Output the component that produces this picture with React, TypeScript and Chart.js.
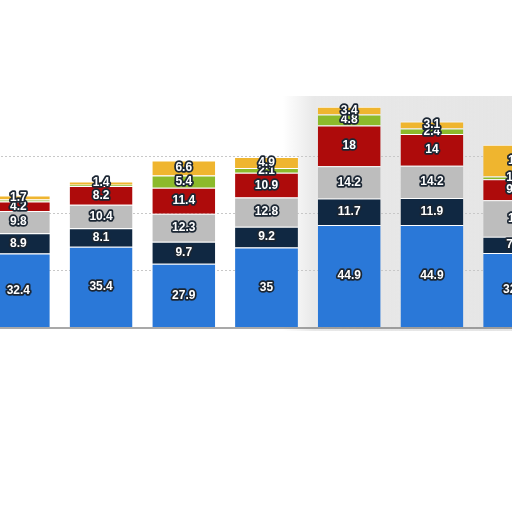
import React, { useEffect, useRef } from 'react';
import { Chart, ChartConfiguration, Plugin, registerables } from 'chart.js';

Chart.register(...registerables);

const categories = ['1', '2', '3', '4', '5', '6', '7'];
const blueValues = [32.4, 35.4, 27.9, 35, 44.9, 44.9, 32.6];
const navyValues = [8.9, 8.1, 9.7, 9.2, 11.7, 11.9, 7.2];
const grayValues = [9.8, 10.4, 12.3, 12.8, 14.2, 14.2, 16.0];
const redValues = [4.2, 8.2, 11.4, 10.9, 18, 14, 9.3];
const greenValues = [0.9, 0.6, 5.4, 2.1, 4.8, 2.4, 1.2];
const yellowValues = [1.7, 1.4, 6.6, 4.9, 3.4, 3.1, 14];
const gridValues = [25, 50, 75];

// soft grey shading behind the right part, like the source capture
const backdrop: Plugin<'bar'> = {
  id: 'backdrop',
  beforeDraw(chart) {
    const { ctx, chartArea } = chart;
    ctx.save();
    const g = ctx.createLinearGradient(305, 0, 560, 0);
    g.addColorStop(0, 'rgba(220,220,220,0)');
    g.addColorStop(0.12, 'rgba(218,218,218,0.6)');
    g.addColorStop(1, 'rgba(225,225,225,0.85)');
    ctx.fillStyle = g;
    ctx.fillRect(305, chartArea.top - 4, 300, chartArea.bottom - chartArea.top + 8);
    ctx.restore();
  }
};

// value labels in each segment + the base line
const segmentLabels: Plugin<'bar'> = {
  id: 'segmentLabels',
  afterDatasetsDraw(chart) {
    const { ctx, chartArea } = chart;
    const y0 = chart.scales.y.getPixelForValue(0);
    ctx.save();
    ctx.strokeStyle = '#555';
    ctx.lineWidth = 1.2;
    ctx.beginPath();
    ctx.moveTo(chartArea.left, y0 + 1);
    ctx.lineTo(chartArea.right, y0 + 1);
    ctx.stroke();

    ctx.font = 'bold 12px "Liberation Sans", Arial, sans-serif';
    ctx.textAlign = 'center';
    ctx.textBaseline = 'middle';
    ctx.lineJoin = 'round';
    chart.data.datasets.forEach((ds, di) => {
      const meta = chart.getDatasetMeta(di);
      meta.data.forEach((el: any, i) => {
        const v = ds.data[i] as number;
        if (v < 1) return;
        const y = (el.y + el.base) / 2;
        ctx.lineWidth = 3.5;
        ctx.strokeStyle = '#1b2633';
        ctx.strokeText(String(v), el.x, y);
        ctx.fillStyle = '#fff';
        ctx.fillText(String(v), el.x, y);
      });
    });
    ctx.restore();
  }
};

const App = () => {
  const ref = useRef<HTMLCanvasElement | null>(null);
  const chartRef = useRef<Chart<'bar'> | null>(null);

  useEffect(() => {
    const seg = (label: string, data: number[], color: string) => ({
      label,
      data,
      backgroundColor: color,
      borderColor: '#ffffff',
      borderWidth: { top: 1, bottom: 0, left: 0, right: 0 },
      borderSkipped: false as const,
      barPercentage: 0.76,
      categoryPercentage: 1
    });

    const config: ChartConfiguration<'bar'> = {
      type: 'bar',
      data: {
        labels: categories,
        datasets: [
          seg('blue', blueValues, '#2a78d8'),
          seg('navy', navyValues, '#102842'),
          seg('gray', grayValues, '#bdbdbd'),
          seg('red', redValues, '#ae0b0b'),
          seg('green', greenValues, '#8cba2b'),
          seg('yellow', yellowValues, '#efb52f')
        ]
      },
      options: {
        responsive: false,
        animation: false,
        layout: { padding: { top: 100, bottom: 13, left: 0, right: 0 } },
        plugins: { legend: { display: false }, tooltip: { enabled: false } },
        scales: {
          x: { stacked: true, display: false },
          y: {
            stacked: true,
            min: 0,
            max: 100,
            position: 'right',
            afterFit: (scale: any) => { scale.width = 0; },
            afterBuildTicks: (scale: any) => {
              scale.ticks = gridValues.map((value) => ({ value }));
            },
            ticks: { display: false },
            border: { display: false, dash: [2, 2] },
            grid: { color: '#c8c8c8', drawTicks: false, lineWidth: 1 }
          }
        }
      },
      plugins: [backdrop, segmentLabels]
    };

    if (chartRef.current) chartRef.current.destroy();
    if (ref.current) chartRef.current = new Chart(ref.current, config);

    return () => {
      chartRef.current?.destroy();
      chartRef.current = null;
    };
  }, []);

  return (
    <div style={{ position: 'fixed', left: 0, top: 0, width: 512, height: 512, overflow: 'hidden', background: '#fff' }}>
      <canvas
        ref={ref}
        width={579}
        height={340}
        style={{ position: 'absolute', left: -23, top: 0, width: 579, height: 340 }}
      ></canvas>
    </div>
  );
};

export default App;
